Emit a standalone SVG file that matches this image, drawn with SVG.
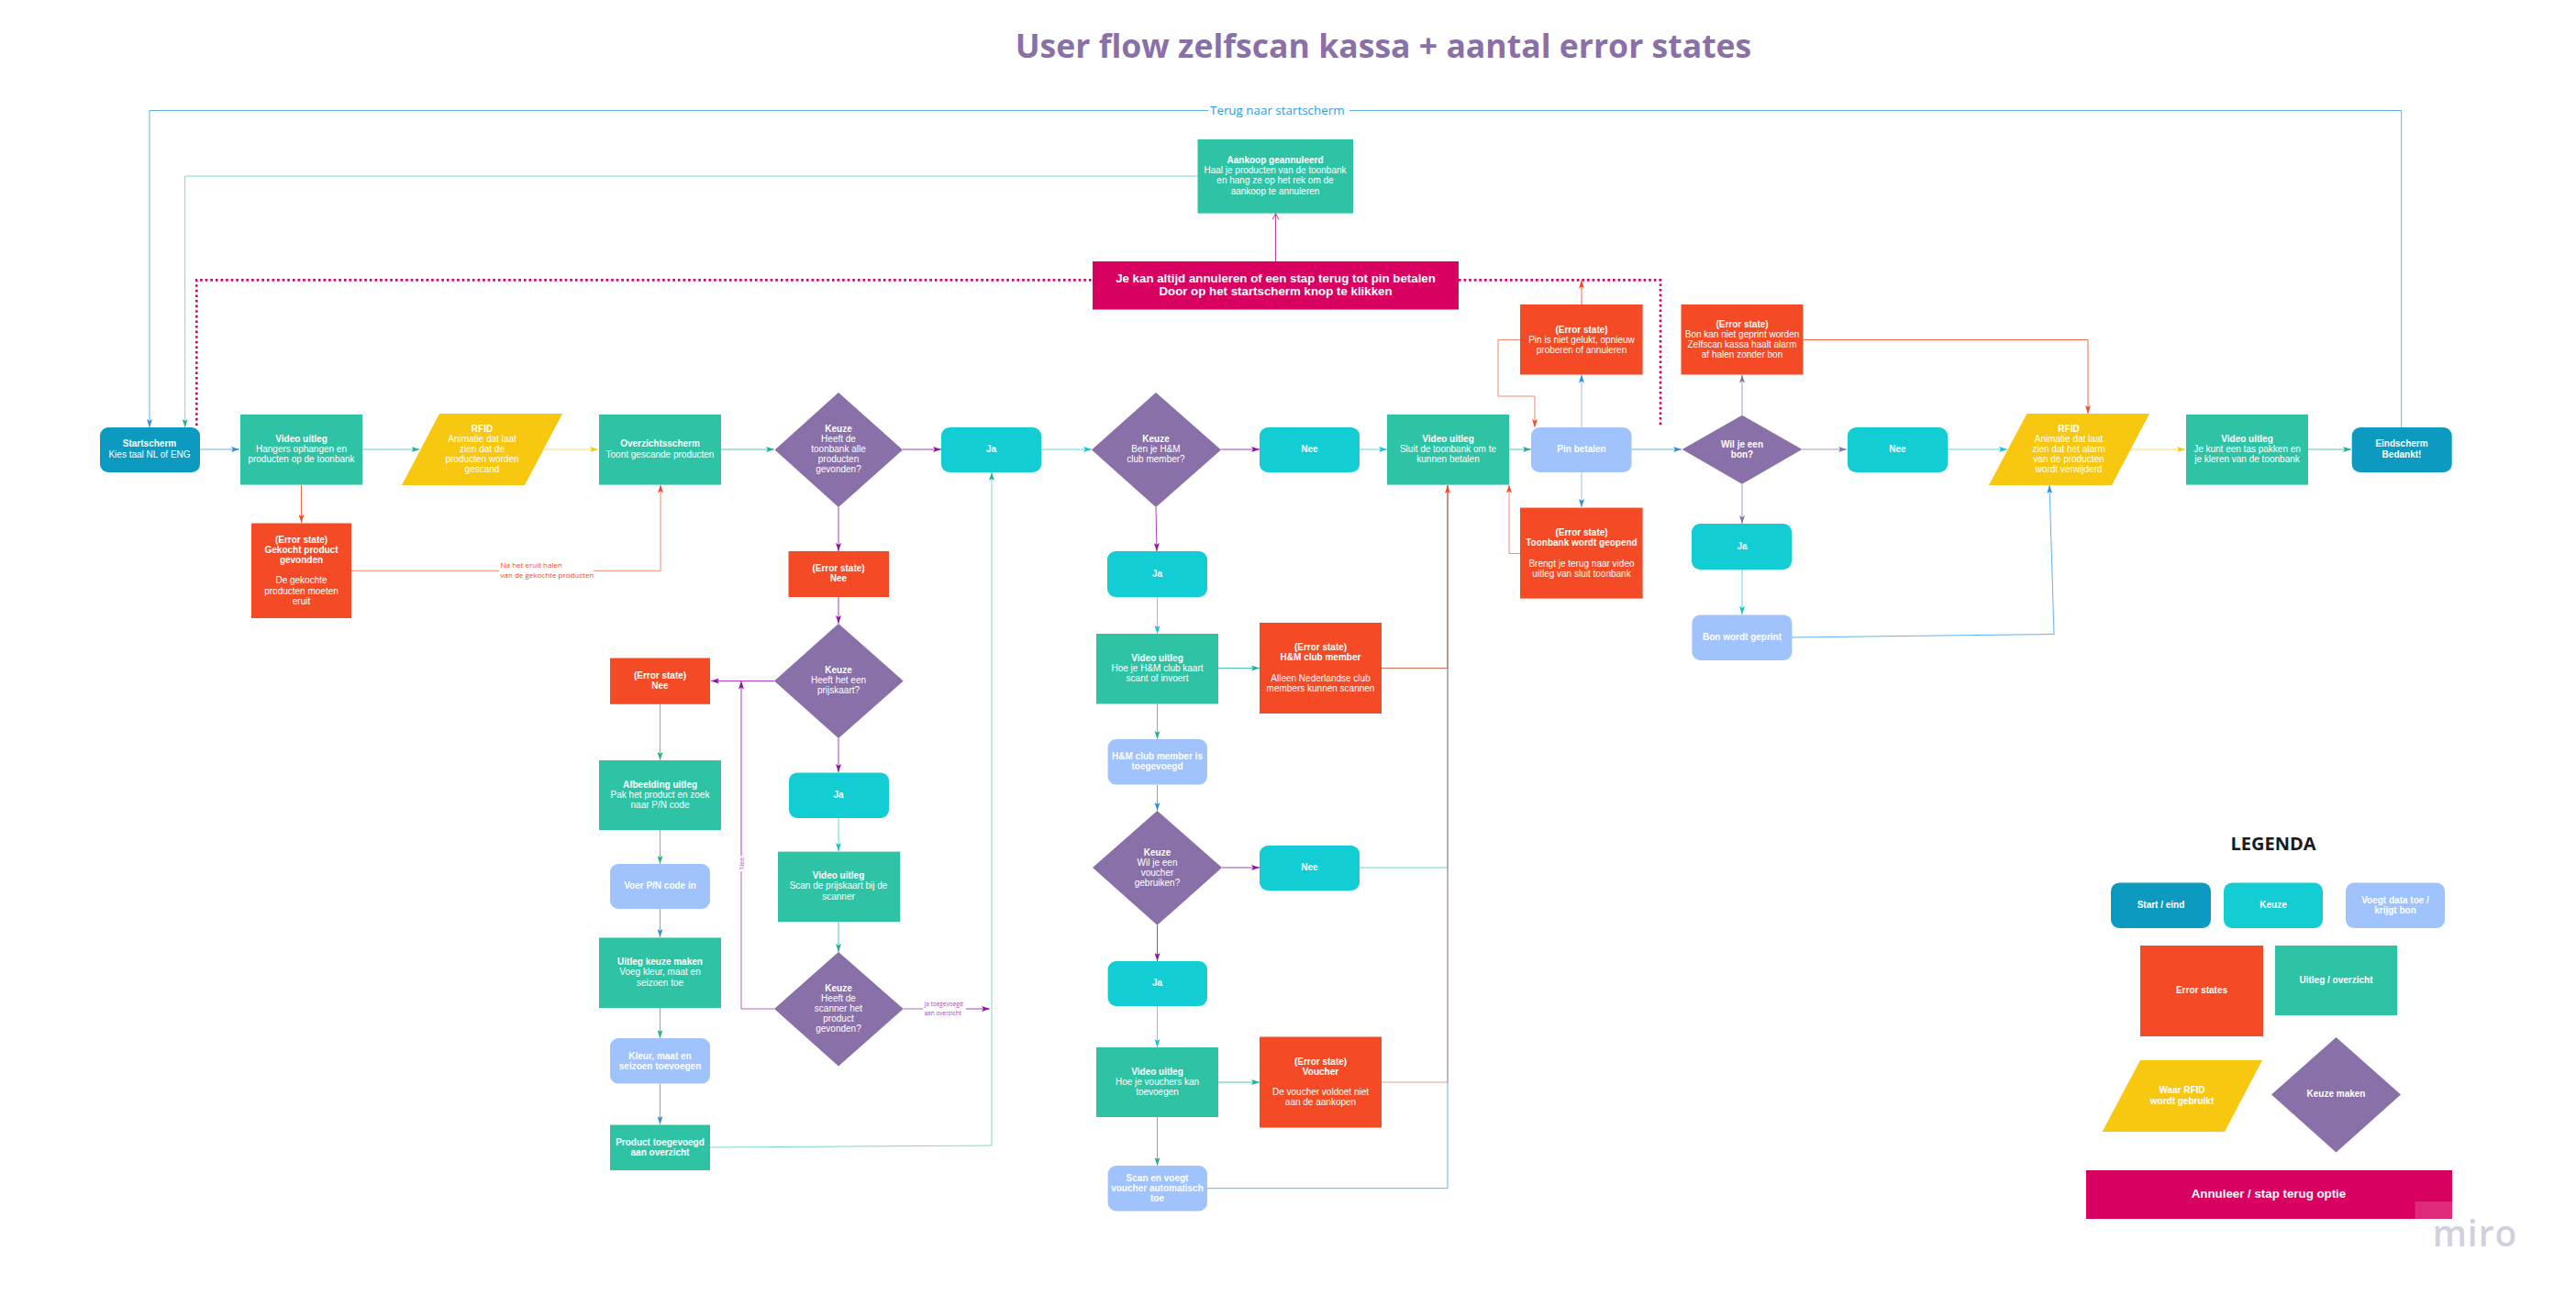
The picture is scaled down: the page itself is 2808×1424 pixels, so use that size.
<svg xmlns="http://www.w3.org/2000/svg" width="2808" height="1424" viewBox="0 0 2808 1424">
<style>
text{font-family:"Liberation Sans",Arial,sans-serif;font-size:10px;fill:#fff;text-anchor:middle}
.b{font-weight:700}
.start{fill:#0d9ac0}.keuze{fill:#12cdd4}.data{fill:#a0c2fd}.err{fill:#f44a25}.uit{fill:#2fc3a5}.rfid{fill:#f8c70f}.dia{fill:#8a70a8}.pink{fill:#d80060}
.c{fill:none;stroke-width:1}
.cb{stroke:#62b1ee;marker-end:url(#mb)}.ct{stroke:#4fc9b4;marker-end:url(#mt)}.cc{stroke:#5ed9de;marker-end:url(#mc)}.cy{stroke:#fadb66;marker-end:url(#my)}.cr{stroke:#f5694a;marker-end:url(#mr)}.cp{stroke:#a63fc0;marker-end:url(#mp)}.cm{stroke:#ab98c4;marker-end:url(#mm)}
.nb{stroke:#62b1ee}.nt{stroke:#7fd9c8}.nc{stroke:#5ed9de}.nr{stroke:#f5694a}.np{stroke:#b763cc}
.dot{fill:none;stroke:#d80060;stroke-width:2.6;stroke-dasharray:2.6 3}
.lab{font-family:"Open Sans","Liberation Sans",sans-serif;text-anchor:start}
</style>
<defs>
<marker id="mb" markerUnits="userSpaceOnUse" markerWidth="9" markerHeight="6" refX="9" refY="3" orient="auto"><path d="M0 0L9 3L0 6L2 3z" fill="#2d8fe0"/></marker>
<marker id="mt" markerUnits="userSpaceOnUse" markerWidth="9" markerHeight="6" refX="9" refY="3" orient="auto"><path d="M0 0L9 3L0 6L2 3z" fill="#1fae96"/></marker>
<marker id="mc" markerUnits="userSpaceOnUse" markerWidth="9" markerHeight="6" refX="9" refY="3" orient="auto"><path d="M0 0L9 3L0 6L2 3z" fill="#12c4cc"/></marker>
<marker id="my" markerUnits="userSpaceOnUse" markerWidth="9" markerHeight="6" refX="9" refY="3" orient="auto"><path d="M0 0L9 3L0 6L2 3z" fill="#f8c70f"/></marker>
<marker id="mr" markerUnits="userSpaceOnUse" markerWidth="9" markerHeight="6" refX="9" refY="3" orient="auto"><path d="M0 0L9 3L0 6L2 3z" fill="#f44a25"/></marker>
<marker id="mp" markerUnits="userSpaceOnUse" markerWidth="9" markerHeight="6" refX="9" refY="3" orient="auto"><path d="M0 0L9 3L0 6L2 3z" fill="#9010a8"/></marker>
<marker id="mm" markerUnits="userSpaceOnUse" markerWidth="9" markerHeight="6" refX="9" refY="3" orient="auto"><path d="M0 0L9 3L0 6L2 3z" fill="#8a70a8"/></marker>
<marker id="mo" markerUnits="userSpaceOnUse" markerWidth="9" markerHeight="8" refX="8" refY="4" orient="auto"><path d="M1 0.5L8 4L1 7.5" fill="none" stroke="#c2409a" stroke-width="1"/></marker>
</defs>
<rect width="2808" height="1424" fill="#fff"/>
<text id="title" x="1508" y="63" style="font-family:'Open Sans','Liberation Sans',sans-serif;font-size:35.6px;font-weight:700;fill:#8a70a8">User flow zelfscan kassa + aantal error states</text>

<g id="connectors">
<path class="c nb" d="M2617.7 466V120.5H1471"/>
<path class="c cb" d="M1317 120.5H163V466"/>
<path class="c ct" style="stroke:#7fd9c8" d="M1305.5 192H201.7V466"/>
<path class="dot" d="M214.3 464V305.4H1191"/>
<path class="dot" d="M1590 305.4H1810V464"/>
<path class="c" style="stroke:#c2409a;marker-end:url(#mo)" d="M1390.5 285V232.6"/>
<path class="c cb" d="M217 490H261"/>
<path class="c ct" style="stroke:#6bcfd0" d="M395 490H457.5"/>
<path class="c cy" d="M593 490H652"/>
<path class="c ct" d="M786 490H844"/>
<path class="c cr" d="M328.5 528.6V570"/>
<path class="c cr" style="stroke:#f28d78" d="M383 622.3H544M647 622.3H720V528.6"/>
<path class="c cp" d="M914 553V601"/>
<path class="c cp" d="M914 651V680"/>
<path class="c cp" d="M984 490H1026"/>
<path class="c cc" d="M1135 490H1190"/>
<path class="c cp" d="M1331 490H1373"/>
<path class="c cp" d="M1260 553L1261 601"/>
<path class="c cc" d="M1261.5 651V691"/>
<path class="c cc" d="M1482 490H1512"/>
<path class="c ct" d="M1645 490H1669"/>
<path class="c cb" d="M1778.5 490H1833"/>
<path class="c cb" style="stroke:#8fc6f0" d="M1724 466V408.5"/>
<path class="c cb" style="stroke:#8fc6f0" d="M1724 515V553"/>
<path class="c cr" d="M1724 332V305.5"/>
<path class="c cr" style="stroke:#f58a72" d="M1657 370.5H1633V432H1673V466"/>
<path class="c cr" style="stroke:#f58a72" d="M1657 603.5H1645V528.6"/>
<path class="c cm" d="M1899 452.7V408.5"/>
<path class="c cm" d="M1899 527.7V571"/>
<path class="c cm" d="M1964.4 490H2013"/>
<path class="c cc" d="M2123 490H2188"/>
<path class="c cy" d="M2322 490H2382"/>
<path class="c ct" d="M2516 490H2563"/>
<path class="c cc" d="M1899 621V670"/>
<path class="c cb" d="M1953 695L2239 691.5L2234 529"/>
<path class="c cr" d="M1965.5 370.5H2276V451"/>
<path class="c ct" d="M719.5 767.8V829"/>
<path class="c ct" d="M719.5 905V942"/>
<path class="c cb" d="M719.5 991V1022"/>
<path class="c ct" d="M719.5 1099V1132"/>
<path class="c cb" d="M719.5 1181.6V1226"/>
<path class="c ct" style="stroke:#7fd9c8" d="M774 1251L1081 1249V515"/>
<path class="c cp" d="M844 742.5H775"/>
<path class="c cp" d="M914 805V842"/>
<path class="c cc" d="M914 892V928"/>
<path class="c ct" d="M914 1005V1038"/>
<path class="c np" d="M844 1100H808V950"/>
<path class="c cp" d="M808 933V742.5"/>
<path class="c np" d="M984.7 1100H1006"/>
<path class="c cp" d="M1053 1100H1079"/>
<path class="c ct" d="M1261.5 767.5V806"/>
<path class="c cb" d="M1261.5 855.6V884"/>
<path class="c cp" d="M1261.5 1008.7V1048"/>
<path class="c cc" d="M1261.5 1097V1142"/>
<path class="c ct" d="M1261.5 1218V1271"/>
<path class="c ct" d="M1328 728.5H1373"/>
<path class="c cp" d="M1332 946H1373"/>
<path class="c ct" d="M1328 1180H1373"/>
<path class="c nb" d="M1316 1295.7H1578V529"/>
<path class="c nc" d="M1482 946H1578V529"/>
<path class="c nr" style="stroke:#e8705a;stroke-opacity:.7" d="M1506 1180H1578V529"/>
<path class="c cr" style="stroke:#d8705a" d="M1506 728.5H1578V529"/>
</g>

<text class="lab" x="1319" y="125" style="font-size:13.4px;fill:#2d9bf0">Terug naar startscherm</text>
<text class="lab" style="font-size:8px;fill:#f44a25" x="545.6" y="619">Na het eruit halen<tspan x="545.6" dy="11">van de gekochte producten</tspan></text>
<text class="lab" style="font-size:7px;fill:#a63fc0;text-anchor:middle" transform="translate(811,941.5) rotate(-90)">Nee</text>
<text class="lab" style="font-size:6.5px;fill:#a63fc0" x="1007.5" y="1097">ja toegevoegd<tspan x="1007.5" dy="10">aan overzicht</tspan></text>

<g id="startscherm"><rect class="start" x="109" y="466" width="109" height="49" rx="9"/><text x="163" y="487"><tspan class="b">Startscherm</tspan><tspan x="163" dy="12">Kies taal NL of ENG</tspan></text></g>
<g id="video1"><rect class="uit" x="262" y="452" width="133" height="76.6"/><text x="328.5" y="482"><tspan class="b">Video uitleg</tspan><tspan x="328.5" dy="11.1">Hangers ophangen en</tspan><tspan x="328.5" dy="11.1">producten op de toonbank</tspan></text></g>
<g id="rfid1"><polygon class="rfid" points="479,451 613,451 572,529 438,529"/><text x="525.5" y="471"><tspan class="b">RFID</tspan><tspan x="525.5" dy="11.1">Animatie dat laat</tspan><tspan x="525.5" dy="11.1">zien dat de</tspan><tspan x="525.5" dy="11.1">producten worden</tspan><tspan x="525.5" dy="11.1">gescand</tspan></text></g>
<g id="overzicht"><rect class="uit" x="653" y="452" width="133" height="76.6"/><text x="719.5" y="487"><tspan class="b">Overzichtsscherm</tspan><tspan x="719.5" dy="12">Toont gescande producten</tspan></text></g>
<g id="keuze1"><polygon class="dia" points="914,428 984,490.5 914,553 844.6,490.5"/><text x="914" y="471"><tspan class="b">Keuze</tspan><tspan x="914" dy="11.1">Heeft de</tspan><tspan x="914" dy="11.1">toonbank alle</tspan><tspan x="914" dy="11.1">producten</tspan><tspan x="914" dy="11.1">gevonden?</tspan></text></g>
<g id="err-gekocht"><rect class="err" x="274" y="570.5" width="109" height="103.5"/><text x="328.5" y="592"><tspan class="b">(Error state)</tspan><tspan class="b" x="328.5" dy="11.1">Gekocht product</tspan><tspan class="b" x="328.5" dy="11.1">gevonden</tspan><tspan x="328.5" dy="22.2">De gekochte</tspan><tspan x="328.5" dy="11.1">producten moeten</tspan><tspan x="328.5" dy="11.1">eruit</tspan></text></g>
<g id="err-nee1"><rect class="err" x="859.5" y="601" width="109.5" height="50"/><text class="b" x="914" y="623">(Error state)<tspan x="914" dy="11.1">Nee</tspan></text></g>
<g id="aankoop"><rect class="uit" x="1305.5" y="152" width="169.5" height="80.6"/><text x="1390" y="178"><tspan class="b">Aankoop geannuleerd</tspan><tspan x="1390" dy="11.2">Haal je producten van de toonbank</tspan><tspan x="1390" dy="11.2">en hang ze op het rek om de</tspan><tspan x="1390" dy="11.6">aankoop te annuleren</tspan></text></g>
<g id="annuleren"><rect class="pink" x="1191" y="285" width="399" height="52.5"/><text class="b" x="1390.5" y="307.5" style="font-size:13.3px">Je kan altijd annuleren of een stap terug tot pin betalen<tspan x="1390.5" dy="14.7">Door op het startscherm knop te klikken</tspan></text></g>
<g id="ja1"><rect class="keuze" x="1026" y="466" width="109" height="49" rx="9"/><text class="b" x="1080.5" y="493">Ja</text></g>
<g id="keuze2"><polygon class="dia" points="1260,428 1331,490.5 1260,553 1190,490.5"/><text x="1260" y="482"><tspan class="b">Keuze</tspan><tspan x="1260" dy="11.1">Ben je H&amp;M</tspan><tspan x="1260" dy="11.1">club member?</tspan></text></g>
<g id="nee1"><rect class="keuze" x="1373" y="466" width="109" height="49" rx="9"/><text class="b" x="1427.5" y="493">Nee</text></g>
<g id="video2"><rect class="uit" x="1512" y="452" width="133" height="76.6"/><text x="1578.5" y="482"><tspan class="b">Video uitleg</tspan><tspan x="1578.5" dy="11.1">Sluit de toonbank om te</tspan><tspan x="1578.5" dy="11.1">kunnen betalen</tspan></text></g>
<g id="pin"><rect class="data" x="1669" y="466" width="109.5" height="49" rx="9"/><text class="b" x="1724" y="493">Pin betalen</text></g>
<g id="err-pin"><rect class="err" x="1657" y="332" width="133.6" height="76.5"/><text x="1724" y="362.5"><tspan class="b">(Error state)</tspan><tspan x="1724" dy="11.1">Pin is niet gelukt, opnieuw</tspan><tspan x="1724" dy="11.1">proberen of annuleren</tspan></text></g>
<g id="err-toonbank"><rect class="err" x="1657" y="553.6" width="133.6" height="99"/><text x="1724" y="584"><tspan class="b">(Error state)</tspan><tspan class="b" x="1724" dy="11.1">Toonbank wordt geopend</tspan><tspan x="1724" dy="22.4">Brengt je terug naar video</tspan><tspan x="1724" dy="11.1">uitleg van sluit toonbank</tspan></text></g>
<g id="err-bon"><rect class="err" x="1832.5" y="332" width="133" height="76.5"/><text x="1899" y="357"><tspan class="b">(Error state)</tspan><tspan x="1899" dy="11.1">Bon kan niet geprint worden</tspan><tspan x="1899" dy="11.1">Zelfscan kassa haalt alarm</tspan><tspan x="1899" dy="11.1">af halen zonder bon</tspan></text></g>
<g id="bon"><polygon class="dia" points="1899,452.7 1964.4,490 1899,527.7 1833.6,490"/><text class="b" x="1899" y="487.5">Wil je een<tspan x="1899" dy="11.5">bon?</tspan></text></g>
<g id="nee3"><rect class="keuze" x="2014" y="466" width="109" height="49" rx="9"/><text class="b" x="2068.5" y="493">Nee</text></g>
<g id="rfid2"><polygon class="rfid" points="2209.5,451 2343,451 2302,529 2168,529"/><text x="2255" y="471"><tspan class="b">RFID</tspan><tspan x="2255" dy="11.1">Animatie dat laat</tspan><tspan x="2255" dy="11.1">zien dat het alarm</tspan><tspan x="2255" dy="11.1">van de producten</tspan><tspan x="2255" dy="11.1">wordt verwijderd</tspan></text></g>
<g id="video3"><rect class="uit" x="2383" y="452" width="133" height="76.6"/><text x="2449.5" y="482"><tspan class="b">Video uitleg</tspan><tspan x="2449.5" dy="11.1">Je kunt een tas pakken en</tspan><tspan x="2449.5" dy="11.1">je kleren van de toonbank</tspan></text></g>
<g id="eindscherm"><rect class="start" x="2563.7" y="466" width="109" height="49" rx="9"/><text class="b" x="2618" y="487">Eindscherm<tspan x="2618" dy="12">Bedankt!</tspan></text></g>
<g id="ja3"><rect class="keuze" x="1844" y="571" width="109" height="50" rx="9"/><text class="b" x="1899" y="599">Ja</text></g>
<g id="bon-geprint"><rect class="data" x="1844.4" y="670.4" width="109" height="49.6" rx="9"/><text class="b" x="1899" y="697.5">Bon wordt geprint</text></g>

<g id="err-nee2"><rect class="err" x="665" y="717.5" width="109" height="50.3"/><text class="b" x="719.5" y="740">(Error state)<tspan x="719.5" dy="11.1">Nee</tspan></text></g>
<g id="keuze3"><polygon class="dia" points="914,680 984.7,742.5 914,805 844,742.5"/><text x="914" y="734"><tspan class="b">Keuze</tspan><tspan x="914" dy="11.1">Heeft het een</tspan><tspan x="914" dy="11.1">prijskaart?</tspan></text></g>
<g id="ja-prijs"><rect class="keuze" x="860" y="842.4" width="109" height="49.6" rx="9"/><text class="b" x="914" y="870">Ja</text></g>
<g id="video-scan"><rect class="uit" x="848" y="928.6" width="133" height="76.4"/><text x="914" y="958"><tspan class="b">Video uitleg</tspan><tspan x="914" dy="11.1">Scan de prijskaart bij de</tspan><tspan x="914" dy="11.8">scanner</tspan></text></g>
<g id="keuze4"><polygon class="dia" points="914,1038 984.7,1100 914,1162.4 844,1100"/><text x="914" y="1081"><tspan class="b">Keuze</tspan><tspan x="914" dy="11.1">Heeft de</tspan><tspan x="914" dy="11.1">scanner het</tspan><tspan x="914" dy="11.1">product</tspan><tspan x="914" dy="11.1">gevonden?</tspan></text></g>
<g id="afbeelding"><rect class="uit" x="653" y="829" width="133" height="76"/><text x="719.5" y="859"><tspan class="b">Afbeelding uitleg</tspan><tspan x="719.5" dy="11.1">Pak het product en zoek</tspan><tspan x="719.5" dy="11.1">naar P/N code</tspan></text></g>
<g id="voer"><rect class="data" x="665" y="942" width="109" height="49" rx="9"/><text class="b" x="719.5" y="969">Voer P/N code in</text></g>
<g id="uitleg-keuze"><rect class="uit" x="653" y="1022.4" width="133" height="76.6"/><text x="719.5" y="1052"><tspan class="b">Uitleg keuze maken</tspan><tspan x="719.5" dy="11.1">Voeg kleur, maat en</tspan><tspan x="719.5" dy="11.8">seizoen toe</tspan></text></g>
<g id="kleur"><rect class="data" x="665" y="1132" width="109" height="49.6" rx="9"/><text class="b" x="719.5" y="1155">Kleur, maat en<tspan x="719.5" dy="11.1">seizoen toevoegen</tspan></text></g>
<g id="product"><rect class="uit" x="665" y="1226.5" width="109" height="49.5"/><text class="b" x="719.5" y="1249">Product toegevoegd<tspan x="719.5" dy="11.1">aan overzicht</tspan></text></g>

<g id="ja2"><rect class="keuze" x="1207" y="601" width="109" height="50" rx="9"/><text class="b" x="1261.5" y="629">Ja</text></g>
<g id="video-hm"><rect class="uit" x="1195" y="691" width="133" height="76.5"/><text x="1261.5" y="721"><tspan class="b">Video uitleg</tspan><tspan x="1261.5" dy="11.1">Hoe je H&amp;M club kaart</tspan><tspan x="1261.5" dy="11.1">scant of invoert</tspan></text></g>
<g id="err-hm"><rect class="err" x="1373" y="679" width="133" height="99"/><text x="1439.5" y="709"><tspan class="b">(Error state)</tspan><tspan class="b" x="1439.5" dy="11.1">H&amp;M club member</tspan><tspan x="1439.5" dy="22.8">Alleen Nederlandse club</tspan><tspan x="1439.5" dy="11.1">members kunnen scannen</tspan></text></g>
<g id="hm-toegevoegd"><rect class="data" x="1207.6" y="806" width="108.4" height="49.6" rx="9"/><text class="b" x="1261.5" y="828">H&amp;M club member is<tspan x="1261.5" dy="11.1">toegevoegd</tspan></text></g>
<g id="keuze5"><polygon class="dia" points="1261.5,884 1332,946 1261.5,1008.7 1191,946"/><text x="1261.5" y="933"><tspan class="b">Keuze</tspan><tspan x="1261.5" dy="11.1">Wil je een</tspan><tspan x="1261.5" dy="11.1">voucher</tspan><tspan x="1261.5" dy="11.1">gebruiken?</tspan></text></g>
<g id="nee2"><rect class="keuze" x="1373" y="922" width="109" height="49" rx="9"/><text class="b" x="1427.5" y="949">Nee</text></g>
<g id="ja4"><rect class="keuze" x="1207.6" y="1048" width="108.4" height="49" rx="9"/><text class="b" x="1261.5" y="1075">Ja</text></g>
<g id="video-voucher"><rect class="uit" x="1195" y="1142" width="133" height="76"/><text x="1261.5" y="1172"><tspan class="b">Video uitleg</tspan><tspan x="1261.5" dy="11.1">Hoe je vouchers kan</tspan><tspan x="1261.5" dy="11.1">toevoegen</tspan></text></g>
<g id="err-voucher"><rect class="err" x="1373" y="1130.5" width="133" height="99"/><text x="1439.5" y="1161"><tspan class="b">(Error state)</tspan><tspan class="b" x="1439.5" dy="11.1">Voucher</tspan><tspan x="1439.5" dy="22">De voucher voldoet niet</tspan><tspan x="1439.5" dy="11.1">aan de aankopen</tspan></text></g>
<g id="scan"><rect class="data" x="1207.6" y="1271" width="108.4" height="49.5" rx="9"/><text class="b" x="1261.5" y="1288">Scan en voegt<tspan x="1261.5" dy="11.1">voucher automatisch</tspan><tspan x="1261.5" dy="11.1">toe</tspan></text></g>

<g id="legenda">
<text x="2478" y="927" style="font-family:'Open Sans','Liberation Sans',sans-serif;font-size:20px;font-weight:700;fill:#1a1a1a">LEGENDA</text>
<g id="leg-start"><rect class="start" x="2301" y="962.6" width="109" height="49.4" rx="9"/><text class="b" x="2355.5" y="990">Start / eind</text></g>
<g id="leg-keuze"><rect class="keuze" x="2424" y="962.6" width="108" height="49.4" rx="9"/><text class="b" x="2478" y="990">Keuze</text></g>
<g id="leg-data"><rect class="data" x="2557" y="962.6" width="108" height="49.4" rx="9"/><text class="b" x="2611" y="985">Voegt data toe /<tspan x="2611" dy="11">krijgt bon</tspan></text></g>
<g id="leg-error"><rect class="err" x="2333" y="1031" width="134" height="99"/><text class="b" x="2400" y="1083">Error states</text></g>
<g id="leg-uitleg"><rect class="uit" x="2480" y="1031" width="133" height="76"/><text class="b" x="2546.5" y="1072">Uitleg / overzicht</text></g>
<g id="leg-rfid"><polygon class="rfid" points="2333,1156 2466,1156 2425,1234 2291.6,1234"/><text class="b" x="2378.5" y="1192">Waar RFID<tspan x="2378.5" dy="12">wordt gebruikt</tspan></text></g>
<g id="leg-dia"><polygon class="dia" points="2546.5,1131 2617,1193.5 2546.5,1256.5 2476,1193.5"/><text class="b" x="2546.5" y="1196">Keuze maken</text></g>
<g id="leg-pink"><rect class="pink" x="2274" y="1276" width="399" height="53"/><text class="b" x="2473" y="1306" style="font-size:13.3px">Annuleer / stap terug optie</text></g>
</g>
<g id="watermark"><rect x="2632.6" y="1310" width="40.4" height="19" fill="#fff" fill-opacity=".16"/><text x="2698" y="1359" style="font-family:'Open Sans',sans-serif;font-size:39px;font-weight:600;fill:#d0d0de;letter-spacing:1px">miro</text></g>
</svg>
